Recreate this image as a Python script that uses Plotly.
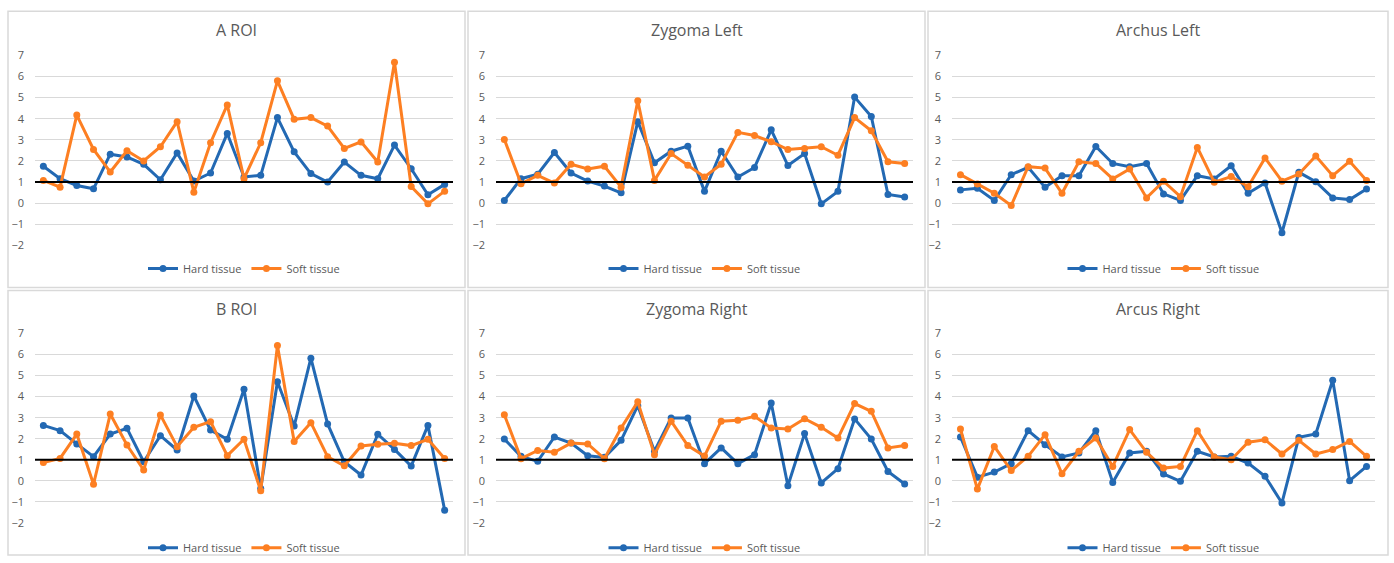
import plotly.graph_objects as go

points = list(range(1, 26))

titles = ["A ROI", "Zygoma Left", "Archus Left", "B ROI", "Zygoma Right", "Arcus Right"]

a_roi_hard = [1.75, 1.16, 0.84, 0.68, 2.32, 2.19, 1.84, 1.11, 2.38, 1.05, 1.43, 3.30, 1.24, 1.32, 4.05, 2.43, 1.40, 1.00, 1.95, 1.32, 1.16, 2.75, 1.63, 0.40, 0.89]
a_roi_soft = [1.08, 0.76, 4.17, 2.54, 1.48, 2.48, 2.00, 2.67, 3.86, 0.52, 2.86, 4.65, 1.16, 2.86, 5.79, 3.97, 4.05, 3.65, 2.59, 2.90, 1.95, 6.67, 0.79, -0.03, 0.57]

zyg_left_hard = [0.13, 1.16, 1.37, 2.40, 1.43, 1.05, 0.81, 0.49, 3.86, 1.91, 2.46, 2.70, 0.56, 2.46, 1.24, 1.69, 3.47, 1.78, 2.35, -0.03, 0.56, 5.02, 4.10, 0.41, 0.29]
zyg_left_soft = [3.02, 0.92, 1.32, 0.95, 1.84, 1.62, 1.75, 0.76, 4.85, 1.08, 2.35, 1.80, 1.24, 1.84, 3.35, 3.20, 2.91, 2.54, 2.59, 2.67, 2.27, 4.05, 3.43, 1.96, 1.88]

arch_left_hard = [0.63, 0.71, 0.13, 1.35, 1.70, 0.75, 1.30, 1.30, 2.68, 1.88, 1.73, 1.88, 0.44, 0.13, 1.30, 1.15, 1.77, 0.47, 0.96, -1.40, 1.46, 1.02, 0.25, 0.17, 0.67]
arch_left_soft = [1.35, 0.91, 0.47, -0.11, 1.73, 1.66, 0.47, 1.96, 1.88, 1.15, 1.62, 0.25, 1.04, 0.31, 2.64, 0.99, 1.26, 0.78, 2.14, 1.04, 1.38, 2.23, 1.30, 1.98, 1.07]

b_roi_hard = [2.63, 2.38, 1.75, 1.14, 2.22, 2.49, 0.90, 2.14, 1.46, 4.03, 2.41, 1.97, 4.35, -0.37, 4.71, 2.60, 5.83, 2.70, 0.90, 0.27, 2.21, 1.49, 0.70, 2.63, -1.40]
b_roi_soft = [0.86, 1.06, 2.22, -0.17, 3.17, 1.70, 0.51, 3.13, 1.62, 2.54, 2.81, 1.19, 1.97, -0.48, 6.43, 1.86, 2.76, 1.14, 0.71, 1.65, 1.73, 1.78, 1.67, 1.97, 1.06]

zyg_right_hard = [1.98, 1.16, 0.92, 2.08, 1.79, 1.19, 1.11, 1.92, 3.57, 1.40, 2.98, 2.98, 0.81, 1.56, 0.81, 1.24, 3.70, -0.24, 2.24, -0.11, 0.57, 2.94, 1.98, 0.44, -0.16]
zyg_right_soft = [3.14, 1.05, 1.44, 1.35, 1.79, 1.75, 1.05, 2.51, 3.75, 1.24, 2.83, 1.67, 1.17, 2.83, 2.87, 3.06, 2.51, 2.46, 2.95, 2.54, 2.03, 3.67, 3.30, 1.56, 1.67]

arc_right_hard = [2.08, 0.17, 0.41, 0.81, 2.38, 1.71, 1.13, 1.32, 2.38, -0.08, 1.32, 1.40, 0.32, -0.03, 1.40, 1.13, 1.16, 0.84, 0.21, -1.06, 2.06, 2.22, 4.78, 0.00, 0.68]
arc_right_soft = [2.46, -0.40, 1.63, 0.48, 1.16, 2.19, 0.33, 1.40, 2.03, 0.68, 2.43, 1.35, 0.60, 0.68, 2.38, 1.13, 1.00, 1.83, 1.95, 1.27, 1.92, 1.27, 1.48, 1.87, 1.16]

hard_series = [a_roi_hard, zyg_left_hard, arch_left_hard, b_roi_hard, zyg_right_hard, arc_right_hard]
soft_series = [a_roi_soft, zyg_left_soft, arch_left_soft, b_roi_soft, zyg_right_soft, arc_right_soft]

W, H = 1394, 563
SY = 563 / 579   # observed vertical scale of the photographed page
YOFF = 8         # observed vertical offset (page px)
BLUE = "#2369b3"
ORANGE = "#fd7f22"
GREY = "#595959"
FONT = "Open Sans"

# target pixel geometry (in the 1394x563 picture)
cols_px = [(35, 453), (496, 913), (952, 1375)]
rows_px = [(55, 245), (333, 522)]
panel_cols_px = [(8, 465), (468, 925), (928, 1388)]
panel_rows_px = [(11, 287), (290, 561)]
legend_y_px = [268, 547]
title_y_px = [30, 308]


def py(v):
    """target picture pixel y -> paper y"""
    yf = min(v / SY - YOFF, H - 1)
    return 1 - yf / H


fig = go.Figure()
layout = dict(
    width=W, height=H,
    margin=dict(l=0, r=0, t=0, b=0),
    paper_bgcolor="white", plot_bgcolor="white",
    font=dict(family=FONT, color=GREY, size=11),
    shapes=[], annotations=[],
)

for i in range(6):
    r, c = divmod(i, 3)
    xa = "x" if i == 0 else f"x{i+1}"
    ya = "y" if i == 0 else f"y{i+1}"
    leg = "legend" if i == 0 else f"legend{i+1}"
    x0, x1 = cols_px[c]
    yt, yb = rows_px[r]
    fig.add_trace(go.Scatter(x=points, y=hard_series[i], mode="lines+markers", name="Hard tissue",
                             line=dict(color=BLUE, width=3), marker=dict(size=7, color=BLUE),
                             xaxis=xa, yaxis=ya, legend=leg))
    fig.add_trace(go.Scatter(x=points, y=soft_series[i], mode="lines+markers", name="Soft tissue",
                             line=dict(color=ORANGE, width=3), marker=dict(size=7, color=ORANGE),
                             xaxis=xa, yaxis=ya, legend=leg))
    xkey = "xaxis" if i == 0 else f"xaxis{i+1}"
    ykey = "yaxis" if i == 0 else f"yaxis{i+1}"
    layout[xkey] = dict(domain=[x0 / W, x1 / W], anchor=ya, range=[0.5, 25.5], showticklabels=False,
                        showgrid=False, zeroline=False, showline=False, ticks="")
    layout[ykey] = dict(domain=[py(yb), py(yt)], anchor=xa, range=[-2, 7], dtick=1, tick0=0,
                        showgrid=True, gridcolor="#d9d9d9", gridwidth=1, zeroline=False,
                        showline=False, ticks="", ticklabelstandoff=10,
                        tickfont=dict(size=11, color=GREY, family=FONT))
    layout[leg] = dict(orientation="h", x=(x0 + x1) / 2 / W, xanchor="center",
                       y=py(legend_y_px[r]), yanchor="middle",
                       bgcolor="rgba(0,0,0,0)", font=dict(size=11, color=GREY, family=FONT),
                       itemwidth=30, tracegroupgap=0)
    layout["shapes"].append(dict(type="line", xref=f"{xa} domain", yref=ya, x0=0, x1=1, y0=1, y1=1,
                                 line=dict(color="black", width=2)))
    px0, px1 = panel_cols_px[c]
    pyt, pyb = panel_rows_px[r]
    layout["shapes"].append(dict(type="rect", xref="paper", yref="paper",
                                 x0=px0 / W, x1=px1 / W, y0=py(pyb), y1=py(pyt),
                                 line=dict(color="#d9d9d9", width=1.5), layer="below"))
    layout["annotations"].append(dict(text=titles[i], xref="paper", yref="paper",
                                      x=(px0 + px1) / 2 / W, y=py(title_y_px[r]),
                                      xanchor="center", yanchor="middle", showarrow=False,
                                      font=dict(size=16, color=GREY, family=FONT)))

fig.update_layout(**layout)
fig.write_html(
    "out.html",
    config={"displayModeBar": False},
    post_script=(
        "var gd=document.getElementById('{plot_id}');"
        "document.documentElement.style.margin='0';"
        "document.documentElement.style.overflow='hidden';"
        "document.body.style.margin='0';"
        "document.body.style.padding='0';"
        "document.body.style.overflow='hidden';"
        "gd.style.position='fixed';gd.style.top='0px';gd.style.left='0px';"
    ),
)
